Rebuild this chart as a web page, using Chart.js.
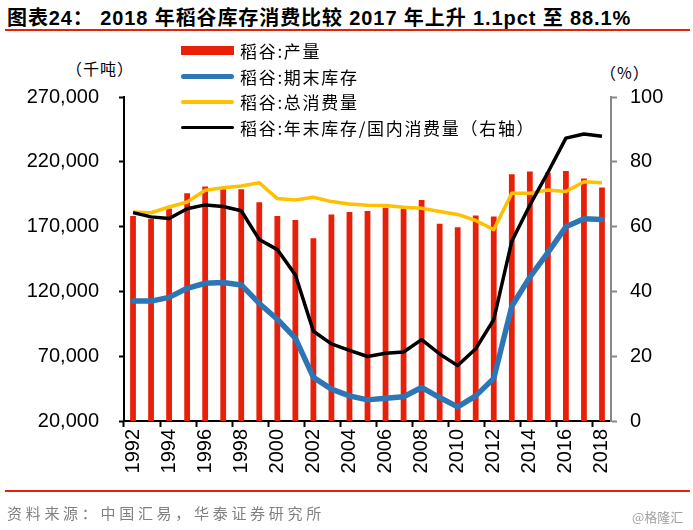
<!DOCTYPE html>
<html>
<head>
<meta charset="utf-8">
<script src="https://cdn.jsdelivr.net/npm/chart.js@4.4.0/dist/chart.umd.min.js"></script>
<style>
body { margin: 0; background: #fff; }
#wrap { position: relative; width: 693px; height: 530px; overflow: hidden; background: #fff; }
#chart { position: absolute; left: 0; top: 0; }
.title { position: absolute; left: 7px; top: 2px; font: bold 20px "Liberation Sans", "Noto Sans CJK SC", sans-serif; letter-spacing: 0.9px; color: #000; white-space: nowrap; }
.rule { position: absolute; left: 5px; width: 685px; height: 2px; background: #e8200a; }
.unit { position: absolute; font: 16px "Noto Sans CJK SC", sans-serif; letter-spacing: 1px; color: #000; white-space: nowrap; }
.source { position: absolute; left: 7px; top: 502px; font: 15px "Noto Sans CJK SC", sans-serif; color: #808080; letter-spacing: 3.7px; white-space: nowrap; }
.mark { position: absolute; left: 632px; top: 507px; font: 13px "Noto Sans CJK SC", sans-serif; color: #a0a0a0; white-space: nowrap; }
#legend { position: absolute; left: 181px; top: 38px; }
.row { position: relative; height: 25.5px; display: flex; align-items: center; }
.sw { width: 53px; margin-right: 6px; }
.row span { font: 17px "Noto Sans CJK SC", sans-serif; color: #000; letter-spacing: 1.7px; white-space: nowrap; }
</style>
</head>
<body>
<div id="wrap">
  <div class="title">图表24： 2018 年稻谷库存消费比较 2017 年上升 1.1pct 至 88.1%</div>
  <div class="rule" style="top:29px"></div>
  <div class="unit" style="left:66px;top:56px">（千吨）</div>
  <div class="unit" style="left:600px;top:60px">（%）</div>
  <canvas id="chart" width="693" height="530"></canvas>
  <div id="legend"></div>
  <div class="rule" style="top:490px"></div>
  <div class="source">资料来源：中国汇易，华泰证券研究所</div>
  <div class="mark">@格隆汇</div>
</div>
<script>
// 年份
const years = ['1992', '1993', '1994', '1995', '1996', '1997', '1998', '1999', '2000',
    '2001', '2002', '2003', '2004', '2005', '2006', '2007', '2008', '2009',
    '2010', '2011', '2012', '2013', '2014', '2015', '2016', '2017', '2018'];

// 千吨
const production = [178100, 176000, 184000, 195700, 201000, 198800, 198800, 188700, 178100,
    175000, 161000, 179400, 181200, 182000, 184600, 183800, 190500, 172200,
    169500, 178600, 177800, 210300, 212600, 211500, 212900, 207200, 200200];
const endStock = [112500, 112500, 115400, 122400, 126300, 126800, 125000, 110700, 98500,
    84000, 53700, 44600, 39400, 36300, 37600, 38700, 45900, 38100,
    30900, 39400, 52900, 108600, 131000, 150000, 169800, 176000, 175500];
const consumption = [181200, 180700, 185100, 189000, 198100, 199900, 201400, 203800, 191600,
    190500, 192600, 189300, 187500, 186400, 186200, 184900, 184100, 181700,
    179400, 174700, 167700, 195700, 195700, 198300, 197100, 204600, 203800];
// %
const ratio = [64.3, 63.0, 62.5, 65.5, 66.7, 66.2, 64.9, 56.0, 52.9,
    45.1, 27.7, 23.8, 21.8, 19.9, 20.9, 21.3, 25.1, 20.7,
    17.1, 22.3, 31.3, 55.5, 66.6, 76.7, 87.3, 88.6, 87.9];

const leftTicks = { min: 20000, max: 270000, step: 50000 };
const rightTicks = { min: 0, max: 100, step: 20 };

const red = '#e8200a';
const blue = '#2e75b6';
const yellow = '#ffc000';

Chart.defaults.font.family = '"Liberation Sans", Arial, sans-serif';
Chart.defaults.color = '#000';

var datasets = [
    { type: 'bar', label: '稻谷:产量', data: production, backgroundColor: red, yAxisID: 'y',
      categoryPercentage: 1, barPercentage: 0.32, order: 4 },
    { type: 'line', label: '稻谷:期末库存', data: endStock, borderColor: blue, borderWidth: 5.5,
      pointRadius: 0, tension: 0, yAxisID: 'y', order: 3, borderCapStyle: 'round', borderJoinStyle: 'round' },
    { type: 'line', label: '稻谷:总消费量', data: consumption, borderColor: yellow, borderWidth: 3.5,
      pointRadius: 0, tension: 0, yAxisID: 'y', order: 2, borderJoinStyle: 'round' },
    { type: 'line', label: '稻谷:年末库存/国内消费量（右轴）', data: ratio, borderColor: '#000', borderWidth: 3.5,
      pointRadius: 0, tension: 0, yAxisID: 'y1', order: 1, borderJoinStyle: 'round' }
];

// legend
var legend = document.getElementById('legend');
datasets.forEach(function (ds) {
    var row = document.createElement('div');
    row.className = 'row';
    var sw = document.createElement('div');
    sw.className = 'sw';
    if (ds.type === 'bar') {
        sw.style.height = '9px';
        sw.style.background = ds.backgroundColor;
    } else {
        sw.style.height = ds.borderWidth + 'px';
        sw.style.background = ds.borderColor;
        sw.style.borderRadius = '3px';
    }
    var txt = document.createElement('span');
    txt.textContent = ds.label;
    row.appendChild(sw);
    row.appendChild(txt);
    legend.appendChild(row);
});

new Chart('chart', {
    data: { labels: years, datasets: datasets },
    options: {
        responsive: false,
        animation: false,
        devicePixelRatio: 1,
        layout: { padding: { top: 97, left: 0, right: 0, bottom: 0 } },
        plugins: { legend: { display: false }, tooltip: { enabled: false } },
        scales: {
            x: {
                offset: true,
                grid: {
                    offset: true,
                    drawOnChartArea: false,
                    tickLength: 6,
                    tickWidth: 2,
                    tickColor: function (ctx) { return ctx.index % 2 === 0 ? '#000' : 'rgba(0,0,0,0)'; }
                },
                border: { color: '#000', width: 2 },
                ticks: {
                    autoSkip: false,
                    minRotation: 90,
                    maxRotation: 90,
                    padding: 2,
                    font: { size: 20 },
                    callback: function (v, i) { return i % 2 === 0 ? this.getLabelForValue(v) : ''; }
                },
                afterFit: function (s) { s.height = 109; }
            },
            y: {
                position: 'left',
                min: leftTicks.min,
                max: leftTicks.max,
                grid: { drawOnChartArea: false, tickLength: 5, tickWidth: 2, tickColor: '#000' },
                border: { color: '#000', width: 2 },
                ticks: {
                    stepSize: leftTicks.step,
                    padding: 20,
                    font: { size: 20 },
                    callback: function (v) { return v.toLocaleString('en-US'); }
                },
                afterFit: function (s) { s.width = 124; }
            },
            y1: {
                position: 'right',
                min: rightTicks.min,
                max: rightTicks.max,
                grid: { drawOnChartArea: false, tickLength: 6, tickWidth: 2, tickColor: '#888' },
                border: { color: '#888', width: 2 },
                ticks: { stepSize: rightTicks.step, padding: 13, font: { size: 20 } },
                afterFit: function (s) { s.width = 82; }
            }
        }
    }
});
</script>
</body>
</html>
